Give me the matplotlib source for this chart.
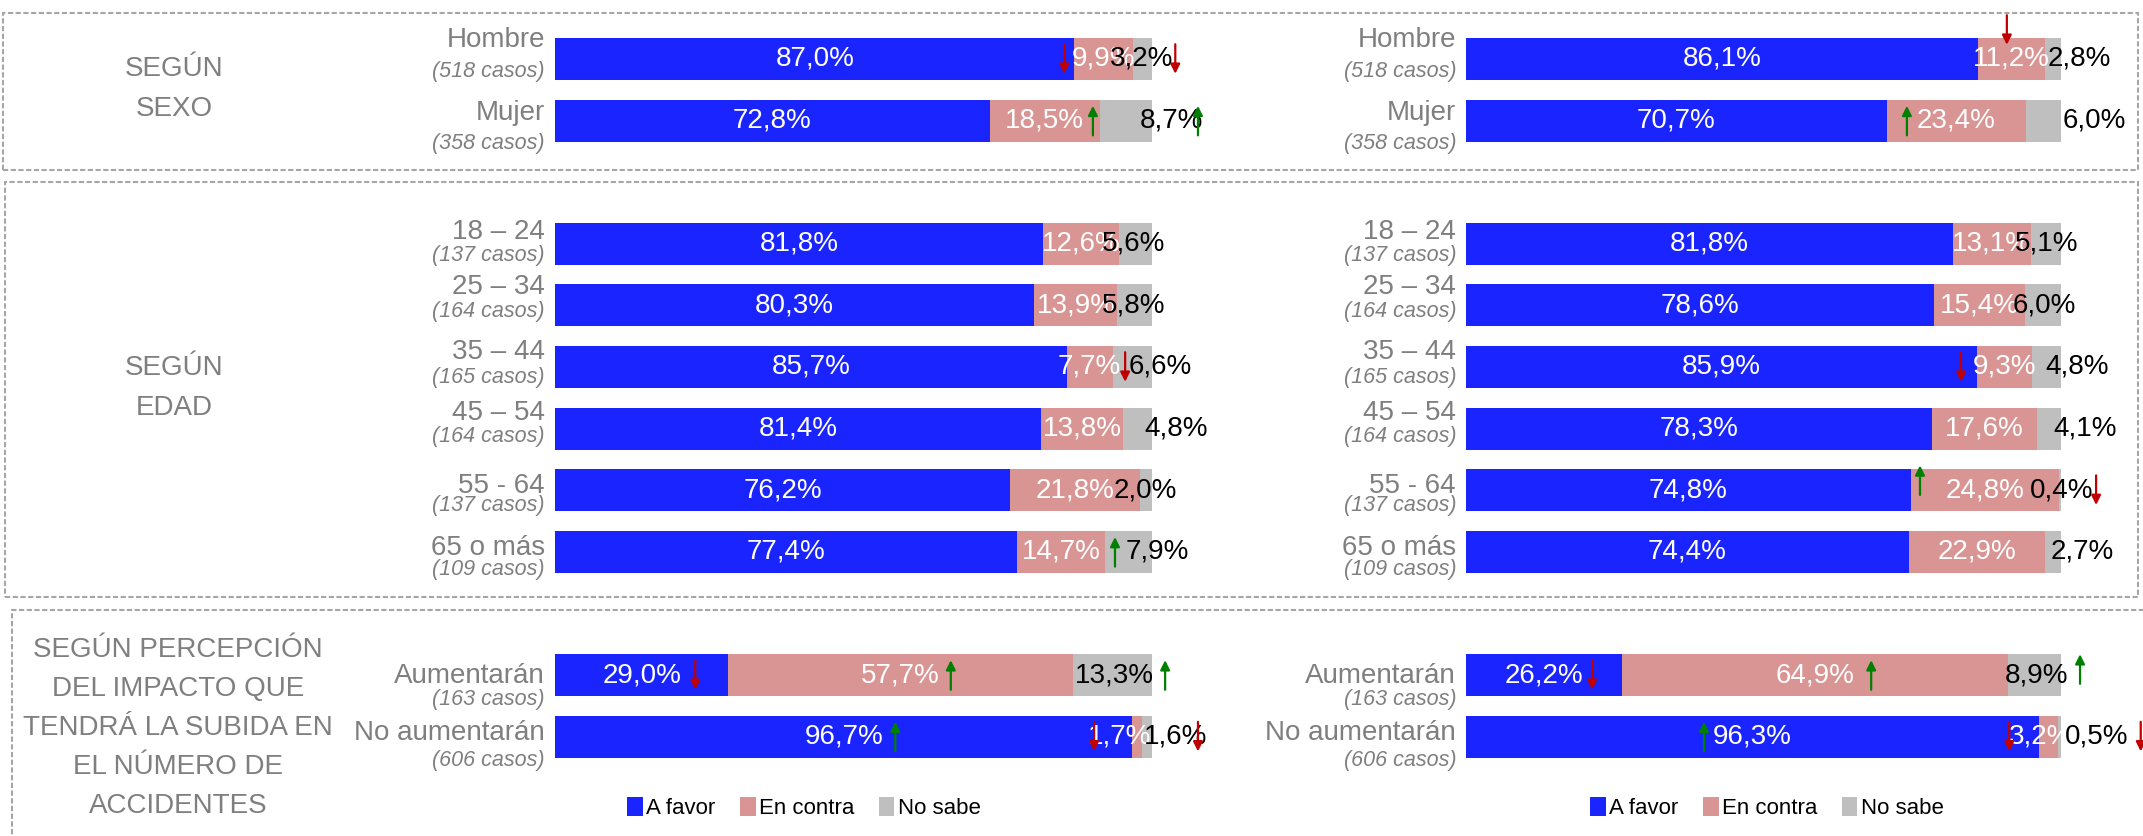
import matplotlib
matplotlib.use('Agg')
import matplotlib.pyplot as plt
from matplotlib.patches import Rectangle

plt.rcParams['font.family'] = ['Liberation Sans', 'DejaVu Sans']

# datos
categorias = ['Hombre', 'Mujer', '18 – 24', '25 – 34', '35 – 44', '45 – 54',
              '55 - 64', '65 o más', 'Aumentarán', 'No aumentarán']
casos = ['(518 casos)', '(358 casos)', '(137 casos)', '(164 casos)', '(165 casos)',
         '(164 casos)', '(137 casos)', '(109 casos)', '(163 casos)', '(606 casos)']

# panel izquierdo
favor_1 = [87.0, 72.8, 81.8, 80.3, 85.7, 81.4, 76.2, 77.4, 29.0, 96.7]
contra_1 = [9.9, 18.5, 12.6, 13.9, 7.7, 13.8, 21.8, 14.7, 57.7, 1.7]
nosabe_1 = [3.2, 8.7, 5.6, 5.8, 6.6, 4.8, 2.0, 7.9, 13.3, 1.6]

# panel derecho
favor_2 = [86.1, 70.7, 81.8, 78.6, 85.9, 78.3, 74.8, 74.4, 26.2, 96.3]
contra_2 = [11.2, 23.4, 13.1, 15.4, 9.3, 17.6, 24.8, 22.9, 64.9, 3.2]
nosabe_2 = [2.8, 6.0, 5.1, 6.0, 4.8, 4.1, 0.4, 2.7, 8.9, 0.5]

leyenda = ['A favor', 'En contra', 'No sabe']

# flechas de diferencia significativa: (fila, sentido)
flechas_1 = [(0, 'down'), (0, 'down'), (1, 'up'), (1, 'up'), (4, 'down'), (7, 'up'),
             (8, 'down'), (8, 'up'), (8, 'up'), (9, 'up'), (9, 'down'), (9, 'down')]
flechas_2 = [(0, 'down'), (1, 'up'), (4, 'down'), (6, 'up'), (6, 'down'), (8, 'down'),
             (8, 'up'), (8, 'up'), (9, 'up'), (9, 'down'), (9, 'down')]

# --- layout ---
W, H = 2143, 836
SLOT = 61.6
slots = [0, 1, 3, 4, 5, 6, 7, 8, 10, 11]
# posicion x (en %) de las flechas y desplazamiento vertical en px
flechas_x_1 = [85.3, 103.9, 90.1, 107.7, 95.5, 93.8, 23.5, 66.3, 102.2, 57.0, 90.3, 107.7]
flechas_dy_1 = [0] * 12
flechas_x_2 = [90.9, 74.1, 83.2, 76.3, 105.9, 21.2, 68.1, 103.2, 40.0, 91.3, 113.4]
flechas_dy_2 = [-29, 0, 0, -10, 0, 0, 0, -6, 0, 0, 0]
# posicion x (en %) de la etiqueta "No sabe"
ns_x_1 = [93.0, 98.0, 91.6, 91.6, 96.1, 98.7, 93.5, 95.5, 87.1, 98.7]
ns_x_2 = [97.8, 100.3, 92.3, 91.8, 97.3, 98.8, 94.8, 98.3, 90.6, 100.7]
contra_x_1 = [None] * 9 + [94.5]
contra_x_2 = [None] * 9 + [96.5]
# desplazamiento vertical (px, hacia abajo) de etiquetas de categoria
off_cat = [-19, -8, -12, -18, -15, -16, -4, -4, 1, -4]
off_cas = [13, 23, 12, 6, 11, 8, 15, 18, 25, 24]

AZUL = '#1a24ff'
ROSA = '#d99594'
GRIS = '#bfbfbf'
TXT = '#7f7f7f'


def fmt(v):
    return f'{v:.1f}%'.replace('.', ',')


def panel(ax, favor, contra, nosabe, ns_x, contra_x, flechas, fx, fdy):
    b1 = ax.barh(slots, favor, height=0.68, color=AZUL, linewidth=0)
    b2 = ax.barh(slots, contra, left=favor, height=0.68, color=ROSA, linewidth=0)
    izq = [a + b for a, b in zip(favor, contra)]
    b3 = ax.barh(slots, nosabe, left=izq, height=0.68, color=GRIS, linewidth=0)
    ax.set_xlim(0, 100)
    ax.set_ylim((H - 59) / SLOT, -59 / SLOT)
    ax.axis('off')
    for i, s in enumerate(slots):
        ax.text(favor[i] / 2, s, fmt(favor[i]), ha='center', va='center',
                color='white', fontsize=20)
        cx = contra_x[i] if contra_x[i] is not None else favor[i] + contra[i] / 2
        ax.text(cx, s, fmt(contra[i]), ha='center', va='center',
                color='white', fontsize=20, clip_on=False)
        ax.text(ns_x[i], s, fmt(nosabe[i]), ha='left', va='center',
                color='black', fontsize=20, clip_on=False)
        ax.annotate(categorias[i], xy=(0, s), xytext=(-10, -off_cat[i]),
                    textcoords='offset pixels', ha='right', va='center',
                    fontsize=20, color=TXT, annotation_clip=False)
        ax.annotate(casos[i], xy=(0, s), xytext=(-10, -off_cas[i]),
                    textcoords='offset pixels', ha='right', va='center',
                    fontsize=15.5, color=TXT, style='italic', annotation_clip=False)
    for (fila, sentido), x, dy in zip(flechas, fx, fdy):
        c = slots[fila] + dy / SLOT
        h = 0.24
        if sentido == 'down':
            cola, punta, col = c - h, c + h, '#c00000'
        else:
            cola, punta, col = c + h, c - h, '#008000'
        ax.annotate('', xy=(x, punta), xytext=(x, cola),
                    arrowprops=dict(arrowstyle='-|>', color=col, lw=1.6,
                                    mutation_scale=14, shrinkA=0, shrinkB=0),
                    annotation_clip=False, zorder=5)
    return [b1, b2, b3]


fig = plt.figure(figsize=(W / 100, H / 100), dpi=100)
ax1 = fig.add_axes([555 / W, 0, 597 / W, 1])
ax2 = fig.add_axes([1466 / W, 0, 595 / W, 1])
h1 = panel(ax1, favor_1, contra_1, nosabe_1, ns_x_1, contra_x_1, flechas_1, flechas_x_1, flechas_dy_1)
h2 = panel(ax2, favor_2, contra_2, nosabe_2, ns_x_2, contra_x_2, flechas_2, flechas_x_2, flechas_dy_2)

for hh, cx in [(h1, 804), (h2, 1767)]:
    fig.legend(hh, leyenda, loc='center', bbox_to_anchor=(cx / W, 1 - 808 / H),
               ncol=3, frameon=False, fontsize=16, handlelength=0.7, handleheight=0.9,
               handletextpad=0.15, columnspacing=1.1)

# cajas punteadas
for x0, y0, x1, y1 in [(3, 13, 2138, 170), (5, 182, 2138, 597), (12, 610, 2170, 870)]:
    fig.add_artist(Rectangle((x0 / W, 1 - y1 / H), (x1 - x0) / W, (y1 - y0) / H,
                             transform=fig.transFigure, fill=False, ec='#a6a6a6',
                             lw=1.5, ls=(0, (2.5, 1.2))))

fig.text(174 / W, 1 - 89 / H, 'SEGÚN\nSEXO', ha='center', va='center',
         fontsize=20, color=TXT, linespacing=1.7)
fig.text(174 / W, 1 - 388 / H, 'SEGÚN\nEDAD', ha='center', va='center',
         fontsize=20, color=TXT, linespacing=1.7)
fig.text(178 / W, 1 - 728 / H,
         'SEGÚN PERCEPCIÓN\nDEL IMPACTO QUE\nTENDRÁ LA SUBIDA EN\nEL NÚMERO DE\nACCIDENTES',
         ha='center', va='center', fontsize=20, color=TXT, linespacing=1.65)

fig.savefig('out.png', dpi=100)
